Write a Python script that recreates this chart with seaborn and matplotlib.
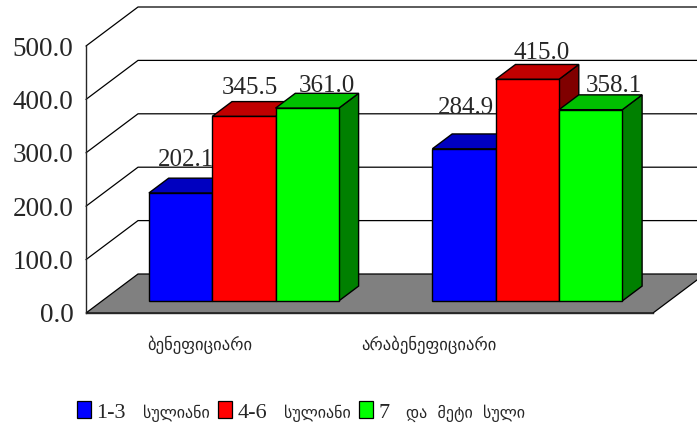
import matplotlib
matplotlib.use("Agg")
import matplotlib.pyplot as plt
import matplotlib.transforms as mtransforms
import pandas as pd
import seaborn as sns
from matplotlib.patches import Polygon, Rectangle
from matplotlib.offsetbox import AnchoredOffsetbox, DrawingArea, HPacker, TextArea

# data
categories = ["ბენეფიციარი", "არაბენეფიციარი"]
series_names = ["1-3 სულიანი", "4-6 სულიანი", "7 და მეტი სული"]
values_1_3 = [202.1, 284.9]
values_4_6 = [345.5, 415.0]
values_7plus = [361.0, 358.1]
y_ticks = [0, 100, 200, 300, 400, 500]

front_colors = ["#0000FF", "#FF0000", "#00FF00"]
top_colors = ["#0000C0", "#C00000", "#00C000"]
side_colors = ["#000080", "#800000", "#008000"]
floor_color = "#808080"

df = pd.DataFrame({
    "category": categories * 3,
    "series": [s for s in series_names for _ in categories],
    "value": values_1_3 + values_4_6 + values_7plus,
})

sns.set_style("white")
SERIF = ["Liberation Serif", "DejaVu Serif", "DejaVu Sans"]
GEO = ["DejaVu Sans"]
plt.rcParams["font.family"] = SERIF

W, H = 697, 434
fig = plt.figure(figsize=(W / 100, H / 100), dpi=100)

# plot box on the front plane (pixels)
left_px, right_px, base_px, top_px = 86, 653, 313, 46
depth_px = (52, 39)          # back wall offset
bar_front, bar_depth = 0.31, 0.38

box = [left_px / W, (H - base_px) / H, (right_px - left_px) / W, (base_px - top_px) / H]
ax = fig.add_axes(box)
bax = fig.add_axes([box[0] + bar_front * depth_px[0] / W, box[1] + bar_front * depth_px[1] / H,
                    box[2], box[3]])
bax.patch.set_alpha(0)

xlim, ylim = (-0.5, 1.5), (0, 500)
DX = depth_px[0] * (xlim[1] - xlim[0]) / (right_px - left_px)
DY = depth_px[1] * (ylim[1] - ylim[0]) / (base_px - top_px)

# walls, floor and grid
for t in y_ticks[1:]:
    ax.plot([xlim[0], xlim[0] + DX, xlim[1] + DX], [t, t + DY, t + DY],
            color="black", lw=0.9, clip_on=False, zorder=1)
ax.add_patch(Polygon([(xlim[0], 0), (xlim[1], 0), (xlim[1] + DX, DY), (xlim[0] + DX, DY)],
                     closed=True, facecolor=floor_color, edgecolor="black", lw=0.9,
                     clip_on=False, zorder=2))

ax.set_xlim(xlim)
ax.set_ylim(ylim)
ax.set_yticks(y_ticks)
ax.set_yticklabels([f"{t:.1f}" for t in y_ticks], fontsize=19.5)
ax.set_xticks([-0.5, 0.5, 1.5])
ax.set_xticklabels([])
ax.tick_params(axis="y", direction="out", length=3, width=0.9, pad=6)
ax.tick_params(axis="x", direction="out", length=5, width=0.9)
for side in ["top", "right"]:
    ax.spines[side].set_visible(False)
for side in ["left", "bottom"]:
    ax.spines[side].set_linewidth(1.0)
    ax.spines[side].set_zorder(3)

# category labels (shifted as in the original layout)
label_shift = [-0.10, -0.29]
tr = mtransforms.blended_transform_factory(ax.transData, ax.transAxes)
for i, cat in enumerate(categories):
    ax.text(i + label_shift[i], -0.12, cat, transform=tr, ha="center", va="center",
            fontsize=12, family=GEO)

# bars (front faces) with seaborn
sns.barplot(data=df, x="category", y="value", hue="series", palette=front_colors,
            saturation=1, width=0.67, edgecolor="black", linewidth=1.0,
            legend=False, ax=bax)
bax.set_xlim(xlim)
bax.set_ylim(ylim)
bax.set_axis_off()

# value label nudges (points), left-to-right bar order, as placed in the original
label_nudge = [(-3.5, 5), (-3, 2), (7, -2.5), (-6, 10.5), (3, 0.5), (9.5, -1.5)]

bx, by = bar_depth * DX, bar_depth * DY
bars = sorted(bax.patches, key=lambda p: p.get_x())
for rank, p in enumerate(bars):
    j = rank % 3
    x0, w, h = p.get_x(), p.get_width(), p.get_height()
    z = 3 + rank * 3
    bax.add_patch(Polygon([(x0 + w, 0), (x0 + w, h), (x0 + w + bx, h + by), (x0 + w + bx, by)],
                          closed=True, facecolor=side_colors[j], edgecolor="black", lw=1.0,
                          clip_on=False, zorder=z))
    bax.add_patch(Polygon([(x0, h), (x0 + bx, h + by), (x0 + w + bx, h + by), (x0 + w, h)],
                          closed=True, facecolor=top_colors[j], edgecolor="black", lw=1.0,
                          clip_on=False, zorder=z))
    p.set_zorder(z + 1)
    p.set_clip_on(False)
    bax.annotate(f"{h:.1f}", xy=(x0 + w / 2 + bx / 2, h + by), xytext=label_nudge[rank],
                 textcoords="offset points", ha="center", va="bottom", fontsize=18,
                 zorder=z + 2, annotation_clip=False)

# legend: square, number part (serif) and Georgian word part
entries = []
for color, name in zip(front_colors, series_names):
    num, word = name.split(" ", 1)
    da = DrawingArea(10, 12, 0, 0)
    da.add_artist(Rectangle((0, 0), 10, 12, facecolor=color, edgecolor="black", lw=0.9))
    t_num = TextArea(num, textprops=dict(fontsize=16, family=SERIF))
    t_word = TextArea(word.replace(" ", "  "), textprops=dict(fontsize=11.5, family=GEO))
    text_pack = HPacker(children=[t_num, t_word], sep=12, align="baseline", pad=0)
    entries.append(HPacker(children=[da, text_pack], sep=4, align="baseline", pad=0))
legend_pack = HPacker(children=entries, sep=6, align="baseline", pad=0)
legend_box = AnchoredOffsetbox(loc="center", child=legend_pack, frameon=False, pad=0,
                               borderpad=0, bbox_to_anchor=(301 / W, 22 / H),
                               bbox_transform=fig.transFigure)
ax.add_artist(legend_box)

fig.savefig("out.png", dpi=100)
